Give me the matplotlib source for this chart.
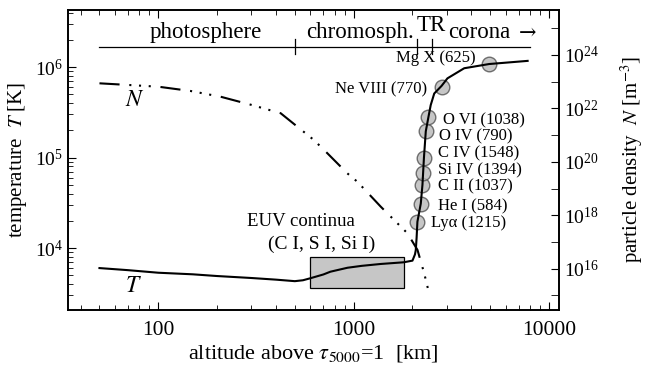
import numpy as np
import matplotlib
matplotlib.use("Agg")
from matplotlib import pyplot as plt
from matplotlib import ticker
from matplotlib.patches import Rectangle

plt.rcParams["font.family"] = ["Liberation Serif", "DejaVu Serif"]
plt.rcParams["mathtext.fontset"] = "stix"
plt.rcParams["lines.scale_dashes"] = False

# temperature model T(h)
h_T = [50, 70, 100, 150, 200, 300, 400, 500, 550, 600, 700, 760, 930, 1100,
       1375, 1800, 2000, 2060, 2080, 2100, 2120, 2206, 2250, 2290, 2340,
       2414, 2480, 2585, 2820, 3020, 3680, 4940, 7770]
T = [6000, 5690, 5330, 5120, 4900, 4660, 4470, 4300, 4400, 4630, 5100, 5470,
     6050, 6350, 6660, 6950, 7250, 8500, 9500, 13000, 19500, 31000, 50000,
     100000, 195000, 280000, 380000, 510000, 620000, 750000, 970000,
     1.08e6, 1.17e6]

# particle density N(h)
h_N = [50, 100, 146, 208, 300, 423, 625, 733, 928, 1044, 1375, 1885, 2122,
       2297, 2432, 2480]
N = [8.7e22, 6.5e22, 4.5e22, 2.75e22, 1.35e22, 6.6e21, 6.6e20, 2.1e20,
     3.7e19, 1.8e19, 2.1e18, 2.1e17, 5.0e16, 6.6e15, 1.2e15, 8.7e14]

# emission lines: name (wavelength), altitude, formation temperature
line_names = ["Ly\u03b1 (1215)", "He I (584)", "C II (1037)", "Si IV (1394)",
              "C IV (1548)", "O IV (790)", "O VI (1038)", "Ne VIII (770)",
              "Mg X (625)"]
line_h = [2120, 2206, 2250, 2270, 2290, 2340, 2414, 2825, 4940]
line_T = [1.95e4, 3.1e4, 4.96e4, 6.7e4, 9.8e4, 1.95e5, 2.77e5, 6.0e5, 1.08e6]

# label anchors for the emission lines
lab_h = [2500, 2690, 2690, 2690, 2690, 2740, 2850, 2390, 4230]
lab_T = [1.91e4, 2.86e4, 4.76e4, 7.28e4, 1.11e5, 1.70e5, 2.6e5, 5.67e5, 1.25e6]
lab_ha = ["left"] * 7 + ["right", "right"]

# atmosphere regions
region_edges = [50, 500, 2120, 2530, 8000]

fig = plt.figure(figsize=(6.45, 3.72), dpi=100)
ax = fig.add_axes([0.1054, 0.1667, 0.7613, 0.8064])

ax.set_xscale("log")
ax.set_yscale("log")
ax.set_xlim(34.5, 11250)
ax.set_ylim(2065, 4.27e6)

# EUV continua box
ax.add_patch(Rectangle((600, 3600), 1200, 4400, facecolor="#c6c6c6",
                       edgecolor="black", lw=0.9, zorder=1))

ax.plot(line_h, line_T, "o", ms=10.5, mfc="#b8b8b8", mec="#505050", mew=1.0,
        alpha=0.8, zorder=2)
ax.plot(h_T, T, color="black", lw=1.5, zorder=3)

for name, x, y, ha in zip(line_names, lab_h, lab_T, lab_ha):
    ax.text(x, y, name, ha=ha, va="center", fontsize=12)

# region bar at top
ybar = 1.68e6
ax.plot([region_edges[0], region_edges[-1]], [ybar, ybar], color="black", lw=0.9)
for e in region_edges[1:4]:
    ax.plot([e, e], [ybar / 1.2, ybar * 1.2], color="black", lw=0.9)
ax.text(174, 2.4e6, "photosphere", ha="center", va="center", fontsize=16.5)
ax.text(1074, 2.4e6, "chromosph.", ha="center", va="center", fontsize=16.5)
ax.text(2483, 2.9e6, "TR", ha="center", va="center", fontsize=16.5)
ax.text(4375, 2.4e6, "corona", ha="center", va="center", fontsize=16.5)
ax.text(7800, 2.4e6, "\u2192", ha="center", va="center", fontsize=15,
        family=["DejaVu Serif"])

ax.text(535, 1.96e4, "EUV continua", ha="center", va="center", fontsize=13.5)
ax.text(689, 1.1e4, "(C I, S I, Si I)", ha="center", va="center", fontsize=14)

ax.text(76, 4.3e5, "$N$", ha="center", va="center", fontsize=17)
ax.text(75, 3730, "$T$", ha="center", va="center", fontsize=17)

ax.set_xticks([100, 1000, 10000], labels=["100", "1000", "10000"])
ax.xaxis.set_minor_formatter(ticker.NullFormatter())
ax.tick_params(axis="x", labelsize=15.5, pad=8)
ax.tick_params(axis="y", labelsize=14)
ax.tick_params(which="both", direction="in", top=True, right=False)
ax.tick_params(which="major", length=6)
ax.tick_params(which="minor", length=3.5)
ax.set_xlabel(r"altitude above $\tau_{5000}$=1  [km]", fontsize=16, labelpad=2)
ax.set_ylabel(r"temperature  $T$ [K]", fontsize=15, labelpad=4)

ax2 = ax.twinx()
ax2.set_yscale("log")
ax2.set_ylim(10**14.45, 10**25.685)
ax2.plot(h_N, N, color="black", lw=1.5,
         linestyle=(0, (14.5, 7, 1.5, 5.5, 1.5, 5.5, 1.5, 7)))
ax2.yaxis.set_major_locator(ticker.FixedLocator([10.0**k for k in range(16, 25, 2)]))
ax2.yaxis.set_minor_locator(ticker.FixedLocator([10.0**k for k in range(15, 26, 2)]))
ax2.yaxis.set_minor_formatter(ticker.NullFormatter())
ax2.tick_params(which="both", direction="in", labelsize=14)
ax2.tick_params(which="major", length=6)
ax2.tick_params(which="minor", length=6)
ax2.set_ylabel(r"particle density  $N$ [m$^{-3}$]", fontsize=15, labelpad=14)

for a in (ax, ax2):
    for s in a.spines.values():
        s.set_linewidth(1.2)

fig.savefig("out.png", dpi=100)
